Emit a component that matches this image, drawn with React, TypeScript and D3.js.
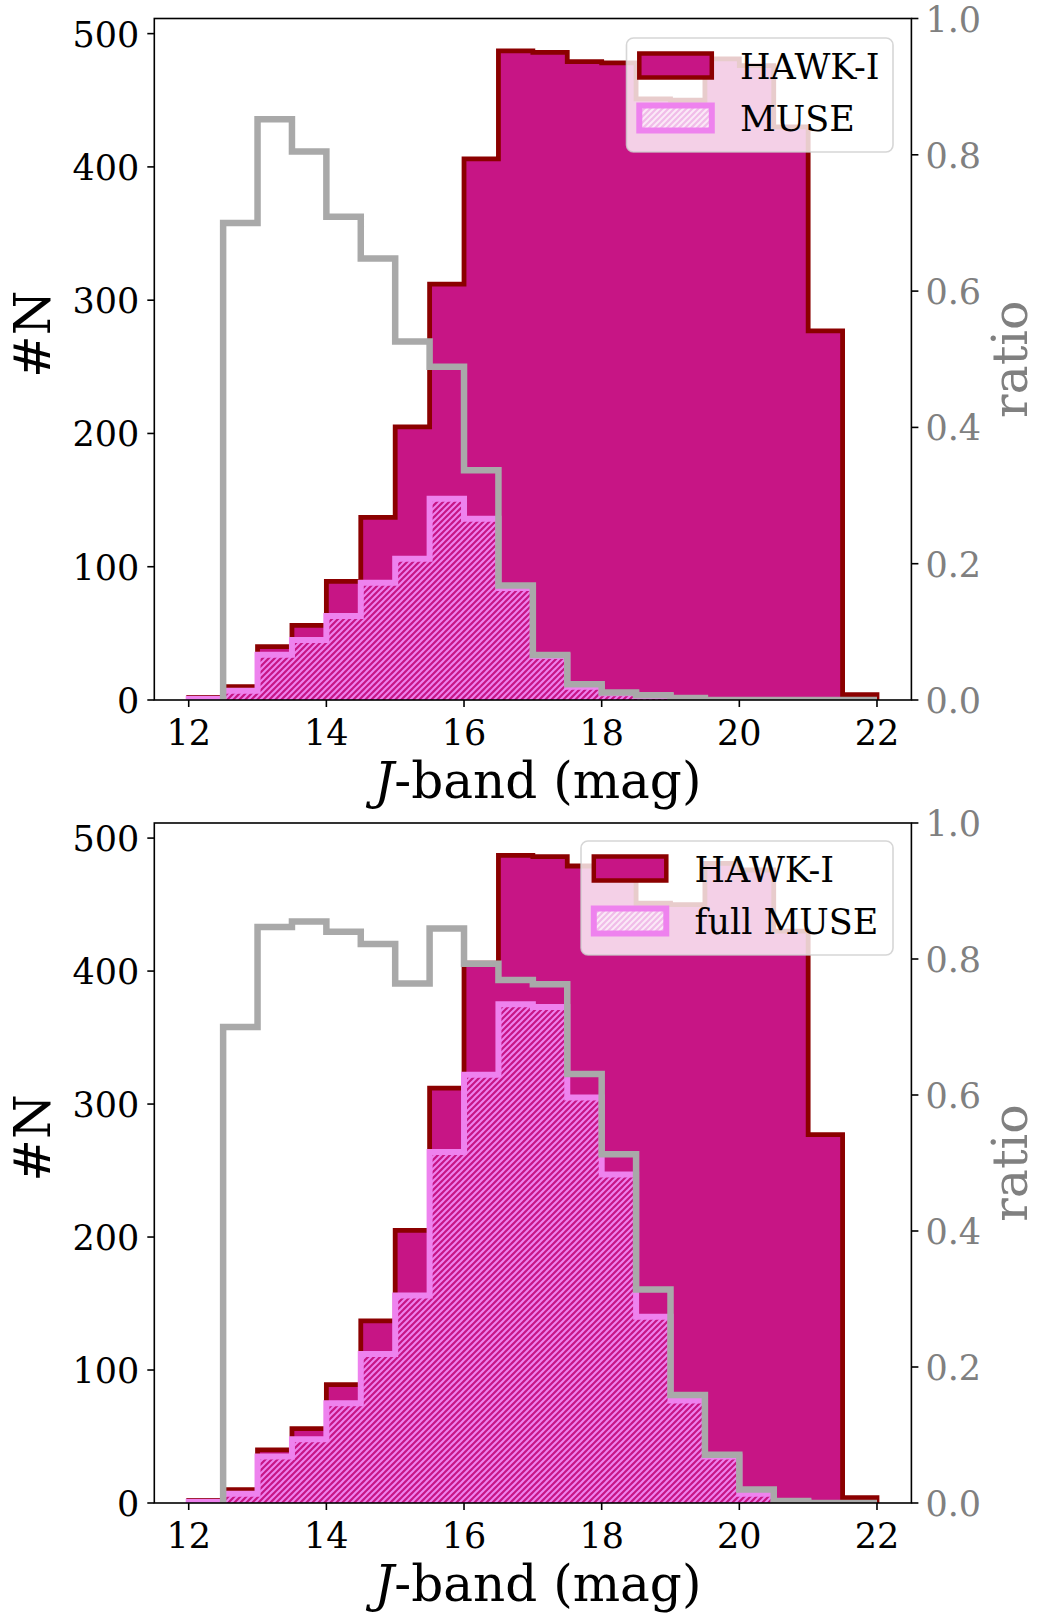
import React from 'react';
import * as d3 from 'd3';

// ---------- data ----------
const binEdges = [12.0, 12.5, 13.0, 13.5, 14.0, 14.5, 15.0, 15.5, 16.0, 16.5, 17.0, 17.5, 18.0, 18.5, 19.0, 19.5, 20.0, 20.5, 21.0, 21.5, 22.0];
const hawkiCounts = [2, 10, 40, 56, 89, 137, 205, 312, 406, 487, 486, 479, 478, 451, 450, 481, 476, 430, 277, 4];
const museCounts = [1, 7, 34, 45, 63, 88, 106, 151, 136, 84, 33, 10, 5, 3, 1, 0, 0, 0, 0, 0];
const museRatio = [null, 0.70, 0.852, 0.805, 0.709, 0.648, 0.526, 0.489, 0.337, 0.168, 0.066, 0.023, 0.011, 0.007, 0.003, 0, 0, 0, 0, 0];
const fullMuseCounts = [1, 7, 35, 48, 75, 112, 156, 264, 322, 375, 373, 305, 247, 140, 77, 35, 7, 1, 0, 0];
const fullMuseRatio = [null, 0.70, 0.847, 0.855, 0.840, 0.822, 0.764, 0.845, 0.793, 0.769, 0.763, 0.631, 0.513, 0.314, 0.159, 0.071, 0.020, 0.003, 0, 0];

const xTicks = [12, 14, 16, 18, 20, 22];
const yTicks = [0, 100, 200, 300, 400, 500];
const ratioTicks = [0, 0.2, 0.4, 0.6, 0.8, 1.0];
const legendLabels = { hawki: 'HAWK-I', muse: 'MUSE', fullMuse: 'full MUSE' };

// ---------- style ----------
const W = 1039;
const H = 1613;
const LEFT = 154.3;
const RIGHT = 911.4;
const FONT = '"DejaVu Serif", serif';
const TICK_FS = 35;
const C_FILL = '#C71585';
const C_EDGE = '#8B0000';
const C_MUSE = '#EE82EE';
const C_RATIO = '#A9A9A9';
const C_RTEXT = '#808080';

type Pt = [number, number];

function stepPoints(counts: (number | null)[]): Pt[] {
  const pts: Pt[] = [];
  let started = false;
  counts.forEach((c, i) => {
    if (c === null) return;
    if (!started) {
      pts.push([binEdges[i], 0]);
      started = true;
    }
    pts.push([binEdges[i], c]);
    pts.push([binEdges[i + 1], c]);
  });
  pts.push([binEdges[binEdges.length - 1], 0]);
  return pts;
}

interface PanelProps {
  id: string;
  top: number;
  bottom: number;
  muse: number[];
  ratio: (number | null)[];
  museLabel: string;
  legend: { x: number; y: number; w: number; h: number };
}

function Panel({ id, top, bottom, muse, ratio, museLabel, legend }: PanelProps) {
  const x = d3.scaleLinear().domain([11.5, 22.5]).range([LEFT, RIGHT]);
  const yMax = (d3.max(hawkiCounts) as number) * 1.05;
  const y = d3.scaleLinear().domain([0, yMax]).range([bottom, top]);
  const yr = d3.scaleLinear().domain([0, 1]).range([bottom, top]);

  const line = d3.line<Pt>().x((d) => x(d[0])).y((d) => y(d[1]));
  const rline = d3.line<Pt>().x((d) => x(d[0])).y((d) => yr(d[1]));

  const hawkiPts = stepPoints(hawkiCounts);
  const musePts = stepPoints(muse);
  const ratioPts = stepPoints(ratio);

  const clipId = `clip-${id}`;
  const midY = (top + bottom) / 2;
  const midX = (LEFT + RIGHT) / 2;
  const tickLen = 7;

  const hx = legend.x + 12.8;
  const hw = 72.5;
  const hh = 24;
  const row1 = legend.y + 27.5;
  const row2 = legend.y + 79.5;
  const tx = legend.x + 113.5;

  return (
    <g>
      <defs>
        <clipPath id={clipId}>
          <rect x={LEFT} y={top} width={RIGHT - LEFT} height={bottom - top} />
        </clipPath>
      </defs>
      <g clipPath={`url(#${clipId})`}>
        <path d={line(hawkiPts) + 'Z'} fill={C_FILL} stroke="none" />
        <path d={line(hawkiPts) || ''} fill="none" stroke={C_EDGE} strokeWidth={4.8} strokeLinejoin="miter" />
        <path d={line(musePts) + 'Z'} fill="url(#hatchPlot)" stroke="none" />
        <path d={line(musePts) || ''} fill="none" stroke={C_MUSE} strokeWidth={6} strokeLinejoin="miter" />
        <path d={rline(ratioPts) || ''} fill="none" stroke={C_RATIO} strokeWidth={6.5} strokeLinejoin="miter" />
      </g>

      {/* frame */}
      <rect x={LEFT} y={top} width={RIGHT - LEFT} height={bottom - top} fill="none" stroke="#000" strokeWidth={1.6} />

      {/* x ticks */}
      {xTicks.map((t) => (
        <g key={`xt${t}`}>
          <line x1={x(t)} x2={x(t)} y1={bottom} y2={bottom + tickLen} stroke="#000" strokeWidth={1.6} />
          <text x={x(t)} y={bottom + 45} textAnchor="middle" fontFamily={FONT} fontSize={TICK_FS} fill="#000">
            {t}
          </text>
        </g>
      ))}
      {/* left y ticks */}
      {yTicks.map((t) => (
        <g key={`yt${t}`}>
          <line x1={LEFT - tickLen} x2={LEFT} y1={y(t)} y2={y(t)} stroke="#000" strokeWidth={1.6} />
          <text x={LEFT - 15} y={y(t) + 13} textAnchor="end" fontFamily={FONT} fontSize={TICK_FS} fill="#000">
            {t}
          </text>
        </g>
      ))}
      {/* right ratio ticks */}
      {ratioTicks.map((t) => (
        <g key={`rt${t}`}>
          <line x1={RIGHT} x2={RIGHT + tickLen} y1={yr(t)} y2={yr(t)} stroke="#000" strokeWidth={1.6} />
          <text x={RIGHT + 14} y={yr(t) + 13} textAnchor="start" fontFamily={FONT} fontSize={TICK_FS} fill={C_RTEXT}>
            {t.toFixed(1)}
          </text>
        </g>
      ))}

      {/* axis labels */}
      <text x={midX + 5} y={bottom + 98} textAnchor="middle" fontFamily={FONT} fontSize={50} fill="#000">
        <tspan fontStyle="italic">J</tspan>
        <tspan>-band (mag)</tspan>
      </text>
      <text
        transform={`translate(50, ${midY - 25}) rotate(-90)`}
        textAnchor="middle"
        fontFamily={FONT}
        fontSize={51}
        fill="#000"
      >
        #N
      </text>
      <text
        transform={`translate(1027, ${midY}) rotate(-90)`}
        textAnchor="middle"
        fontFamily={FONT}
        fontSize={49}
        fill={C_RTEXT}
      >
        ratio
      </text>

      {/* legend */}
      <rect
        x={legend.x}
        y={legend.y}
        width={legend.w}
        height={legend.h}
        rx={7}
        fill="#fff"
        fillOpacity={0.8}
        stroke="#cccccc"
        strokeOpacity={0.8}
        strokeWidth={1.6}
      />
      <rect x={hx} y={row1 - hh / 2} width={hw} height={hh} fill={C_FILL} stroke={C_EDGE} strokeWidth={4.5} />
      <rect x={hx} y={row2 - hh / 2} width={hw} height={hh + 1} fill="url(#hatchLegend)" stroke={C_MUSE} strokeWidth={6} />
      <text x={tx} y={row1 + 13} fontFamily={FONT} fontSize={TICK_FS} fill="#000">
        {legendLabels.hawki}
      </text>
      <text x={tx} y={row2 + 13} fontFamily={FONT} fontSize={TICK_FS} fill="#000">
        {museLabel}
      </text>
    </g>
  );
}

export default function App() {
  return (
    <svg
      width={W}
      height={H}
      viewBox={`0 0 ${W} ${H}`}
      style={{ position: 'absolute', left: 0, top: 0, background: '#fff' }}
    >
      <defs>
        <pattern id="hatchPlot" patternUnits="userSpaceOnUse" width={6} height={6}>
          <path d="M-1,1 l2,-2 M0,6 l6,-6 M5,7 l2,-2" stroke={C_MUSE} strokeWidth={2} />
        </pattern>
        <pattern id="hatchLegend" patternUnits="userSpaceOnUse" width={6} height={6}>
          <rect x={0} y={0} width={6} height={6} fill="#F1BCE9" />
          <path d="M-1,1 l2,-2 M0,6 l6,-6 M5,7 l2,-2" stroke="#FBE9F7" strokeWidth={2} />
        </pattern>
      </defs>
      <rect x={0} y={0} width={W} height={H} fill="#fff" />
      <Panel
        id="top"
        top={18.5}
        bottom={700}
        muse={museCounts}
        ratio={museRatio}
        museLabel={legendLabels.muse}
        legend={{ x: 626.5, y: 38, w: 266.5, h: 114 }}
      />
      <Panel
        id="bottom"
        top={823}
        bottom={1503}
        muse={fullMuseCounts}
        ratio={fullMuseRatio}
        museLabel={legendLabels.fullMuse}
        legend={{ x: 581, y: 841, w: 312, h: 114 }}
      />
    </svg>
  );
}
